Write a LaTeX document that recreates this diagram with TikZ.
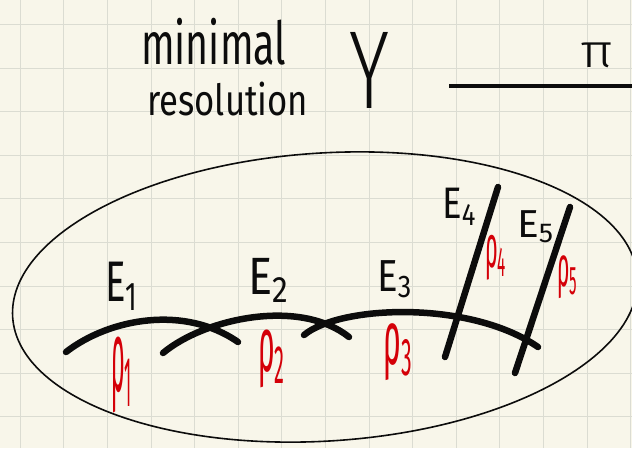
\documentclass[tikz,border=0pt]{standalone}
\usepackage{fontspec}
\setmainfont{Fira Sans}
\newfontfamily\lighthand{Fira Sans Light}
\usepackage{graphicx}
\usepackage{xcolor}
\usetikzlibrary{calc}
\definecolor{paper}{RGB}{248,246,234}
\definecolor{gridline}{RGB}{219,220,210}
\definecolor{inkblack}{RGB}{12,12,12}
\definecolor{inkred}{RGB}{212,0,8}
\tikzset{
  hand/.style={inner sep=0pt,anchor=north west,text=inkblack},
  redhand/.style={hand,text=inkred},
  curvestroke/.style={line width=6.5pt,line cap=round,draw=inkblack},
  mapstroke/.style={line width=3.5pt,draw=inkblack},
  thinstroke/.style={line width=1.6pt,draw=inkblack},
  gridstroke/.style={line width=1pt,draw=gridline}
}
\newcommand{\fitto}[3]{\resizebox*{#1pt}{#2pt}{#3}}

\begin{document}
\begin{tikzpicture}[x=1pt,y=-1pt]
  \fill[paper] (0,0) rectangle (632,448);
  \useasboundingbox (0,0) rectangle (632,448);
  \foreach \i in {0,...,14} \draw[gridstroke] ({20.2+43.6*\i},0) -- ++(0,448);
  \foreach \j in {0,...,9} \draw[gridstroke] (0,{24.5+43.6*\j}) -- ++(632,0);

  \node[hand] (minimal) at (141,18) {\fitto{145}{47}{minimal}};
  \node[hand] (resol) at (147,82) {\fitto{161}{34}{resolution}};
  \node[hand,font=\lighthand] (Y) at (349,32) {\fitto{40}{76}{Y}};
  \node[hand,font=\lighthand] (pi) at (580,43) {\fitto{33}{25}{π}};
  \coordinate (mapL) at (449,86);
  \coordinate (mapR) at (632,86);
  \draw[mapstroke] (mapL) -- (mapR);

  \draw[thinstroke,rotate around={3.7:(325,297)}] (325,297) ellipse [x radius=313pt,y radius=144pt];

  \draw[curvestroke] (66,352) .. controls (110,318) and (185,305) .. (238,342);
  \draw[curvestroke] (163,353) .. controls (205,318) and (300,298) .. (349,337);
  \draw[curvestroke] (304,335) .. controls (340,305) and (470,300) .. (538,347);
  \draw[curvestroke] (498,187) -- (445,357);
  \draw[curvestroke] (570,207) -- (515,373);

  \node[hand] (E1) at (105,262) {\fitto{34}{48}{E\textsubscript{1}}};
  \node[hand] (E2) at (248,258) {\fitto{42}{44}{E\textsubscript{2}}};
  \node[hand] (E3) at (377,260) {\fitto{36}{38}{E\textsubscript{3}}};
  \node[hand] (E4) at (442,188) {\fitto{35}{37}{E\textsubscript{4}}};
  \node[hand] (E5) at (517,210) {\fitto{38}{33}{E\textsubscript{5}}};

  \node[redhand] (rho1) at (111,337) {\fitto{22}{76}{ρ\textsubscript{1}}};
  \node[redhand] (rho2) at (258,330) {\fitto{28}{58}{ρ\textsubscript{2}}};
  \node[redhand] (rho3) at (383,323) {\fitto{30}{57}{ρ\textsubscript{3}}};
  \node[redhand] (rho4) at (485,235) {\fitto{22}{45}{ρ\textsubscript{4}}};
  \node[redhand] (rho5) at (557,255) {\fitto{21}{43}{ρ\textsubscript{5}}};
\end{tikzpicture}
\end{document}
